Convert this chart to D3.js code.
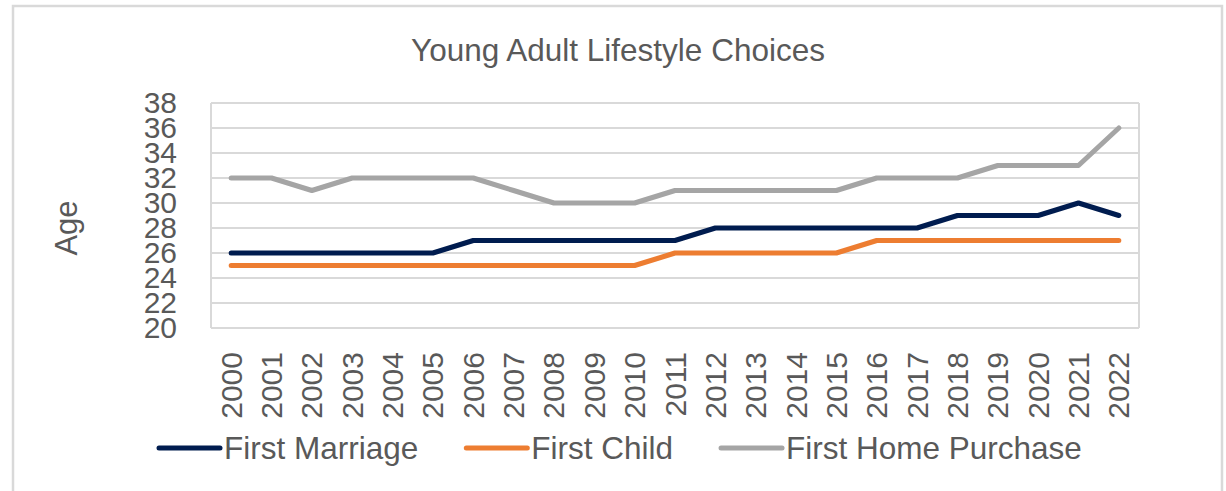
<!DOCTYPE html>
<html>
<head>
<meta charset="utf-8">
<script src="https://cdn.jsdelivr.net/npm/d3@7"></script>
<style>
  body { margin: 0; background: #fff; }
  text { font-family: "Liberation Sans", Arial, sans-serif; fill: #595959; }
</style>
</head>
<body>
<div id="chart"></div>
<script>
// donnees
var years = ["2000","2001","2002","2003","2004","2005","2006","2007","2008","2009","2010",
             "2011","2012","2013","2014","2015","2016","2017","2018","2019","2020","2021","2022"];
var firstMarriage = [26,26,26,26,26,26,27,27,27,27,27,27,28,28,28,28,28,28,29,29,29,30,29];
var firstChild    = [25,25,25,25,25,25,25,25,25,25,25,26,26,26,26,26,27,27,27,27,27,27,27];
var firstHome     = [32,32,31,32,32,32,32,31,30,30,30,31,31,31,31,31,32,32,32,33,33,33,36];
var yTicks = [20,22,24,26,28,30,32,34,36,38];
var seriesNames = ["First Marriage","First Child","First Home Purchase"];
var seriesColors = ["#001c4f","#ed7d31","#a5a5a5"];

var W = 1226, H = 491;
var plot = {left: 211, right: 1139, top: 103, bottom: 328};

var svg = d3.select('#chart').append('svg').attr('width',W).attr('height',H);

// cadre exterieur (pas de bord en bas)
svg.append('path')
   .attr('d','M13,'+H+' V6 H1222 V'+H)
   .attr('fill','none').attr('stroke','#d9d9d9').attr('stroke-width',2.5);

var x = d3.scaleBand().domain(years).range([plot.left, plot.right]);
var y = d3.scaleLinear().domain([20,38]).range([plot.bottom, plot.top]);

// grille horizontale
svg.append('g').selectAll('line').data(yTicks).enter().append('line')
   .attr('x1',plot.left).attr('x2',plot.right)
   .attr('y1',function(d){return y(d);}).attr('y2',function(d){return y(d);})
   .attr('stroke','#d9d9d9').attr('stroke-width',2);
// bords verticaux de la zone de trace
[plot.left, plot.right].forEach(function(px){
    svg.append('line').attr('x1',px).attr('x2',px).attr('y1',plot.top).attr('y2',plot.bottom)
       .attr('stroke','#d9d9d9').attr('stroke-width',2);
});

// axe Y
var yAxis = svg.append('g').attr('transform','translate('+(plot.left-34)+',0)')
   .call(d3.axisLeft(y).tickValues(yTicks).tickSize(0).tickPadding(0));
yAxis.select('.domain').remove();
yAxis.selectAll('text').attr('font-size',30).attr('fill','#595959')
   .attr('font-family','"Liberation Sans", Arial, sans-serif');

// axe X (labels verticaux)
var xAxis = svg.append('g').attr('transform','translate(0,'+plot.bottom+')')
   .call(d3.axisBottom(x).tickSize(0).tickPadding(0));
xAxis.select('.domain').remove();
xAxis.selectAll('text')
   .attr('font-size',30).attr('fill','#595959')
   .attr('font-family','"Liberation Sans", Arial, sans-serif')
   .attr('text-anchor','end').attr('dy','0.35em')
   .attr('transform','translate(0,24) rotate(-90)');

// titre
svg.append('text').attr('x',618).attr('y',61).attr('text-anchor','middle')
   .attr('font-size',31.5).text('Young Adult Lifestyle Choices');

// titre axe Y
svg.append('text').attr('transform','translate(77,228) rotate(-90)')
   .attr('text-anchor','middle').attr('font-size',31).text('Age');

// courbes
var allSeries = [firstMarriage, firstChild, firstHome];
var line = d3.line()
   .x(function(d,i){return x(years[i]) + x.bandwidth()/2;})
   .y(function(d){return y(d);});
// ordre de dessin : gris, orange, bleu (bleu au dessus)
[2,1,0].forEach(function(k){
    svg.append('path').datum(allSeries[k])
       .attr('d',line).attr('fill','none')
       .attr('stroke',seriesColors[k]).attr('stroke-width',5)
       .attr('stroke-linecap','round').attr('stroke-linejoin','round');
});

// legende
var leg = svg.append('g');
var lx = 159, ly = 448;
seriesNames.forEach(function(name,k){
    leg.append('line').attr('x1',lx).attr('x2',lx+61).attr('y1',ly).attr('y2',ly)
       .attr('stroke',seriesColors[k]).attr('stroke-width',5).attr('stroke-linecap','round');
    var t = leg.append('text').attr('x',lx+65).attr('y',ly).attr('dy','0.35em')
       .attr('font-size',31.5).text(name);
    lx = lx + 65 + t.node().getComputedTextLength() + 48;
});
</script>
</body>
</html>
